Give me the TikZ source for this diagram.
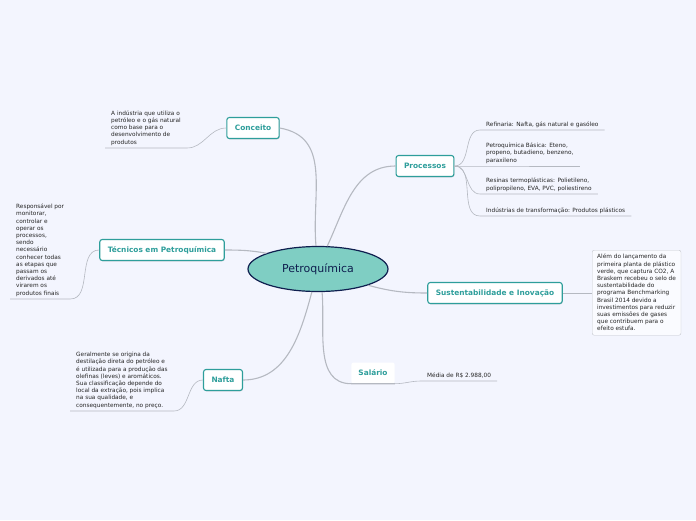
\documentclass[tikz,border=0pt]{standalone}
\usepackage{fontspec}
\setmainfont{DejaVu Sans}
\usetikzlibrary{positioning,shapes.geometric,shadows}
\definecolor{colorbg}     {HTML}{F3F5FE}
\definecolor{colortopic}  {HTML}{7FCEC3}
\definecolor{colorborder} {HTML}{0F1F4F}
\definecolor{colorteal}   {HTML}{2E9E9B}
\definecolor{colorline}   {HTML}{B5B9C1}
\definecolor{colortext}   {HTML}{262626}

\begin{document}
\begin{tikzpicture}[
    x=1pt, y=-1pt,
    central/.style={ellipse,draw=colorborder,line width=1.2pt,fill=colortopic,
        minimum width=140pt,minimum height=45pt,text=colorborder,
        font={\fontsize{11}{13}\selectfont}},
    topic/.style={rectangle,rounded corners=2.5pt,draw=colorteal,line width=1.1pt,
        fill=white,text=colorteal,font={\fontsize{7.4}{8}\selectfont\bfseries},
        minimum height=21pt,inner xsep=8pt,
        drop shadow={shadow xshift=0.5pt,shadow yshift=-0.8pt,opacity=.35}},
    plain/.style={rectangle,rounded corners=2pt,fill=white,text=colorteal,
        font={\fontsize{7.4}{8}\selectfont\bfseries},minimum height=21pt,inner xsep=7pt},
    note/.style={text=colortext,font={\fontsize{5.8}{7.2}\selectfont},align=left,
        inner xsep=6pt,inner ysep=2.5pt,anchor=south west},
    notebox/.style={note,anchor=north west,draw=colorline!80,fill=white!60!colorbg,
        rounded corners=2pt,inner xsep=5pt,inner ysep=4pt,minimum height=85pt},
    branch/.style={colorline,line width=1.1pt},
    twig/.style={colorline,line width=0.6pt},
]

    % Background
    \fill[colorbg] (0,0) rectangle (696,520);
    \useasboundingbox (0,0) rectangle (696,520);

    % Nodes
    \node[central] (petro) at (318,269) {Petroquímica};
    \node[topic] (conceito)  at (253,128) {Conceito};
    \node[topic] (tecnicos)  at (162,250) {Técnicos em Petroquímica};
    \node[topic] (nafta)     at (223,380) {Nafta};
    \node[topic] (processos) at (425,166) {Processos};
    \node[topic] (sust)      at (495,293) {Sustentabilidade e Inovação};
    \node[plain] (salario)   at (373,373) {Salário};

    % Text
    \node[note] (conceitotxt) at (105,148) {A indústria que utiliza o\\petróleo e o gás natural\\como base para o\\desenvolvimento de\\produtos};
    \node[note] (tecnicostxt) at (10,299) {Responsável por\\monitorar,\\controlar e\\operar os\\processos,\\sendo\\necessário\\conhecer todas\\as etapas que\\passam os\\derivados até\\virarem os\\produtos finais};
    \node[note] (naftatxt) at (70,411) {Geralmente se origina da\\destilação direta do petróleo e\\é utilizada para a produção das\\olefinas (leves) e aromáticos.\\Sua classificação depende do\\local da extração, pois implica\\na sua qualidade, e\\consequentemente, no preço.};
    \node[note] (proc1) at (480,130) {Refinaria: Nafta, gás natural e gasóleo};
    \node[note] (proc2) at (480,166) {Petroquímica Básica: Eteno,\\propeno, butadieno, benzeno,\\paraxileno};
    \node[note] (proc3) at (480,194) {Resinas termoplásticas: Polietileno,\\polipropileno, EVA, PVC, poliestireno};
    \node[note] (proc4) at (480,216) {Indústrias de transformação: Produtos plásticos};
    \node[notebox] (susttxt) at (592,250) {Além do lançamento da\\primeira planta de plástico\\verde, que captura CO2, A\\Braskem recebeu o selo de\\sustentabilidade do\\programa Benchmarking\\Brasil 2014 devido a\\investimentos para reduzir\\suas emissões de gases\\que contribuem para o\\efeito estufa.};
    \node[note] (salariotxt) at (421,381) {Média de R\$ 2.988,00};

    % Branches
    \draw[branch] (petro.95)  to[out=95,in=-10,looseness=1.1] (conceito.east);
    \draw[branch] (petro.68)  to[out=65,in=180] (processos.west);
    \draw[branch] (petro.163) to[out=170,in=0] (tecnicos.east);
    \draw[branch] (petro.255) to[out=255,in=0] (nafta.east);
    \draw[branch] (petro.280) to[out=275,in=180] (salario.south west) -- (salario.south east);
    \draw[branch] (petro.342) to[out=-15,in=180] (sust.west);

    % Twigs
    \draw[twig] (conceito.west) to[out=180,in=0] (conceitotxt.south east) -- (conceitotxt.south west);
    \draw[twig] (tecnicos.west) to[out=180,in=0] (tecnicostxt.south east) -- (tecnicostxt.south west);
    \draw[twig] (nafta.west) to[out=180,in=0] (naftatxt.south east) -- (naftatxt.south west);
    \foreach \i in {1,...,4}
        \draw[twig] (processos.east) to[out=0,in=180] (proc\i.south west) -- (proc\i.south east);
    \draw[twig] (sust.east) -- (susttxt.west |- sust.east);
    \draw[twig] (salario.south east) to[out=0,in=180] (salariotxt.south west) -- (salariotxt.south east);

\end{tikzpicture}
\end{document}
